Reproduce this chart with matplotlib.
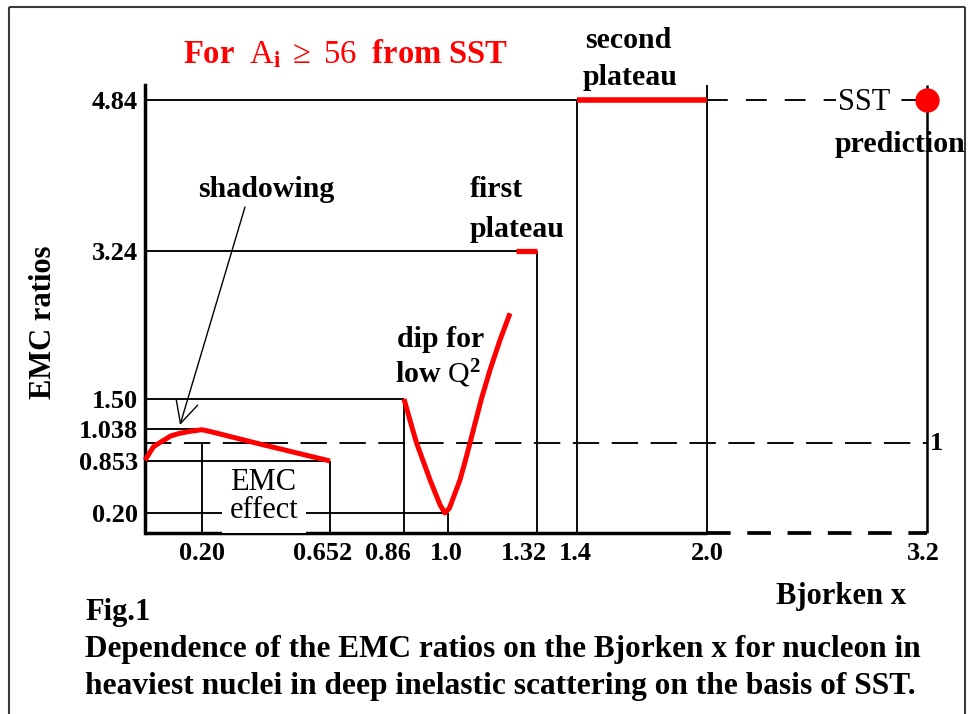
import numpy as np
import matplotlib
matplotlib.use("Agg")
import matplotlib.pyplot as plt
from matplotlib.lines import Line2D
from matplotlib.transforms import ScaledTranslation

plt.rcParams['font.family'] = ['Liberation Serif', 'DejaVu Serif']
plt.rcParams['mathtext.fontset'] = 'custom'
plt.rcParams['mathtext.rm'] = 'Liberation Serif'
plt.rcParams['mathtext.bf'] = 'Liberation Serif:bold'
plt.rcParams['mathtext.it'] = 'Liberation Serif:italic'
plt.rcParams['lines.scale_dashes'] = False
plt.rcParams['lines.solid_capstyle'] = 'butt'

# ---------------- data ----------------
x_ticks = [0.20, 0.652, 0.86, 1.0, 1.32, 1.4, 2.0, 3.2]
x_tick_labels = ["0.20", "0.652", "0.86", "1.0", "1.32", "1.4", "2.0", "3.2"]
y_ticks = [0.20, 0.853, 1.038, 1.50, 3.24, 4.84]
y_tick_labels = ["0.20", "0.853", "1.038", "1.50", "3.24", "4.84"]

# shadowing + EMC effect curve
emc_x = [0.0, 0.03, 0.05, 0.09, 0.12, 0.16, 0.20, 0.23, 0.39, 0.652]
emc_y = [0.86, 0.97, 1.0, 1.019, 1.026, 1.032, 1.036, 1.031, 1.0, 0.853]
# dip for low Q^2
dip_x = [0.86, 0.887, 0.90, 0.921, 0.943, 0.975, 0.99, 1.005, 1.043, 1.062, 1.079, 1.092, 1.120, 1.151, 1.187, 1.223]
dip_y = [1.50, 1.038, 1.0, 0.853, 0.614, 0.30, 0.20, 0.26, 0.614, 0.853, 1.0, 1.038, 1.50, 1.841, 2.194, 2.508]
# plateaus
plateau1_x = [1.245, 1.32]
plateau1_y = 3.24
plateau2_x = [1.4, 2.0]
plateau2_y = 4.84
# SST prediction
sst_x = 3.2
sst_y = 4.84
unity = 1.0

# ---------------- schematic (non-linear) axis layout ----------------
W, H = 968, 714
X_BREAKS = [0.0, 0.20, 0.652, 0.86, 1.0, 1.32, 1.4, 2.0, 3.2]
X_PIX = [145, 202, 330, 404, 448, 537, 577, 707, 927]
Y_BREAKS = [0.0, 0.20, 0.853, 1.0, 1.038, 1.50, 3.24, 4.84, 5.0]
Y_PIX = [533, 513, 461, 443, 429, 399, 251, 100, 85]
Y_UP = [H - p for p in Y_PIX]

def fx(v):
    return np.interp(v, X_BREAKS, X_PIX)

def ix(v):
    return np.interp(v, X_PIX, X_BREAKS)

def fy(v):
    return np.interp(v, Y_BREAKS, Y_UP)

def iy(v):
    return np.interp(v, Y_UP, Y_BREAKS)

fig = plt.figure(figsize=(W / 100, H / 100), dpi=100)
ax = fig.add_axes([X_PIX[0] / W, (H - Y_PIX[0]) / H,
                   (X_PIX[-1] - X_PIX[0]) / W, (Y_PIX[0] - Y_PIX[-1]) / H])
ax.set_xscale('function', functions=(fx, ix))
ax.set_yscale('function', functions=(fy, iy))
ax.set_xlim(0.0, 3.2)
ax.set_ylim(0.0, 5.0)
ax.patch.set_alpha(0)

for s in ['top', 'right', 'bottom']:
    ax.spines[s].set_visible(False)
ax.spines['left'].set_linewidth(2.5)

LW = 1.35
K = 'black'
kw = dict(color=K, lw=LW, clip_on=False, zorder=2)

# guide lines
ax.plot([0, 2.0], [4.84, 4.84], **kw)
ax.plot([0, 1.32], [3.24, 3.24], **kw)
ax.plot([1.32, 1.32], [0, 3.24], **kw)
ax.plot([1.4, 1.4], [0, 4.84], **kw)
ax.plot([2.0, 2.0], [0, 5.0], **kw)
ax.plot([0, 0.86], [1.50, 1.50], **kw)
ax.plot([0.86, 0.86], [0, 1.50], **kw)
ax.plot([0, 0.20], [1.038, 1.038], **kw)
ax.plot([0.20, 0.20], [0, unity], **kw)
ax.plot([0, 0.652], [0.853, 0.853], **kw)
ax.plot([0.652, 0.652], [0, 0.853], **kw)
ax.plot([0, 1.0], [0.20, 0.20], **kw)
ax.plot([1.0, 1.0], [0, 0.20], **kw)
ax.plot([3.2, 3.2], [0, 5.0], color=K, lw=1.8, clip_on=False, zorder=2)
# unity dashed line
ax.plot([0, 3.2], [unity, unity], color=K, lw=LW, dashes=(19, 9), clip_on=False, zorder=2)
# dashed line to SST prediction
ax.plot([2.0, 3.2], [4.84, 4.84], color=K, lw=LW, dashes=(15, 13), clip_on=False, zorder=2)
# bottom axis
ax.plot([0, 2.0], [0, 0], color=K, lw=2.5, clip_on=False, zorder=3)
ax.plot([2.0, 3.2], [0, 0], color=K, lw=2.7, dashes=(17, 12), clip_on=False, zorder=3)

# red curves
RED = '#ff0000'
ax.plot(emc_x, emc_y, color=RED, lw=3.6, clip_on=False, zorder=4, solid_joinstyle='round')
ax.plot(dip_x, dip_y, color=RED, lw=3.6, clip_on=False, zorder=4, solid_joinstyle='round')
ax.plot(plateau1_x, [plateau1_y] * 2, color=RED, lw=3.8, clip_on=False, zorder=4)
ax.plot(plateau2_x, [plateau2_y] * 2, color=RED, lw=4.0, clip_on=False, zorder=4)
ax.plot([sst_x], [sst_y], 'o', color=RED, ms=16.5, clip_on=False, zorder=5)

# ticks
ax.set_xticks(x_ticks, x_tick_labels)
ax.set_yticks(y_ticks, y_tick_labels)
ax.minorticks_off()
ax.tick_params(axis='both', length=0, labelsize=19)
ax.tick_params(axis='x', pad=6.5)
ax.tick_params(axis='y', pad=5)
for lab in ax.get_xticklabels() + ax.get_yticklabels():
    lab.set_fontweight('bold')
x_shift = {"0.652": -7, "0.86": -16, "1.0": -2, "1.32": -13, "1.4": -2, "3.2": -4}
for lab, txt in zip(ax.get_xticklabels(), x_tick_labels):
    dx = x_shift.get(txt, 0)
    if dx:
        lab.set_transform(lab.get_transform() + ScaledTranslation(dx / 100, 0, fig.dpi_scale_trans))

def fp(x, y):
    return x / W, 1 - y / H

# texts
fig.text(*fp(346, 63), r'$\mathbf{For}\ \ \mathrm{A}_{\mathbf{i}}\ \geq\ \mathrm{56}\ \ \mathbf{from\ SST}$',
         color=RED, ha='center', va='baseline', fontsize=23.5)
fig.text(*fp(198, 197), 'shadowing', ha='left', va='baseline', fontsize=21.5, fontweight='bold')
fig.text(*fp(470, 197), 'first', ha='left', va='baseline', fontsize=21.5, fontweight='bold')
fig.text(*fp(470, 237), 'plateau', ha='left', va='baseline', fontsize=21.5, fontweight='bold')
fig.text(*fp(585, 48), 'second', ha='left', va='baseline', fontsize=21.5, fontweight='bold')
fig.text(*fp(583, 85), 'plateau', ha='left', va='baseline', fontsize=21.5, fontweight='bold')
fig.text(*fp(397, 347), 'dip for', ha='left', va='baseline', fontsize=21.5, fontweight='bold')
fig.text(*fp(395, 383), r'low $\mathrm{Q}^{\mathbf{2}}$', ha='left', va='baseline', fontsize=21.5, fontweight='bold')
fig.text(*fp(864, 103), 'SST', ha='center', va='center', fontsize=22, zorder=6,
         bbox=dict(boxstyle='square,pad=0.05', fc='white', ec='none'))
fig.text(*fp(835, 152), 'prediction', ha='left', va='baseline', fontsize=21.5, fontweight='bold')
fig.text(*fp(264, 518), 'effect', ha='center', va='baseline', fontsize=22, zorder=6,
         bbox=dict(boxstyle='square,pad=0.25', fc='white', ec='none'))
fig.text(*fp(263, 490), 'EMC', ha='center', va='baseline', fontsize=22, zorder=7)
fig.text(*fp(937, 444), '1', ha='center', va='center', fontsize=19, fontweight='bold')
fig.text(*fp(44, 322), 'EMC ratios', ha='center', va='center', rotation=90, fontsize=22, fontweight='bold')
fig.text(*fp(776, 604), 'Bjorken x', ha='left', va='baseline', fontsize=22, fontweight='bold')
fig.text(*fp(85, 620), 'Fig.1', ha='left', va='baseline', fontsize=22, fontweight='bold')
fig.text(*fp(85, 657), 'Dependence of the EMC ratios on the Bjorken x for nucleon in',
         ha='left', va='baseline', fontsize=22.5, fontweight='bold')
fig.text(*fp(85, 694), 'heaviest nuclei in deep inelastic scattering on the basis of SST.',
         ha='left', va='baseline', fontsize=22.6, fontweight='bold')

# shadowing arrow
ax.annotate('', xy=(180, H - 425), xycoords='figure pixels',
            xytext=(245, H - 207), textcoords='figure pixels',
            arrowprops=dict(arrowstyle='->,head_length=0.9,head_width=0.45', color=K, lw=1.0,
                            mutation_scale=18, shrinkA=0, shrinkB=0))

# outer frame
fc = '#3a3a3a'
fig.add_artist(Line2D([9 / W, 9 / W], [0, 1 - 7 / H], color=fc, lw=1.5))
fig.add_artist(Line2D([9 / W, 965 / W], [1 - 7 / H, 1 - 7 / H], color=fc, lw=1.5))
fig.add_artist(Line2D([965 / W, 965 / W], [0, 1 - 7 / H], color=fc, lw=1.5))

fig.savefig('out.png', dpi=100)
